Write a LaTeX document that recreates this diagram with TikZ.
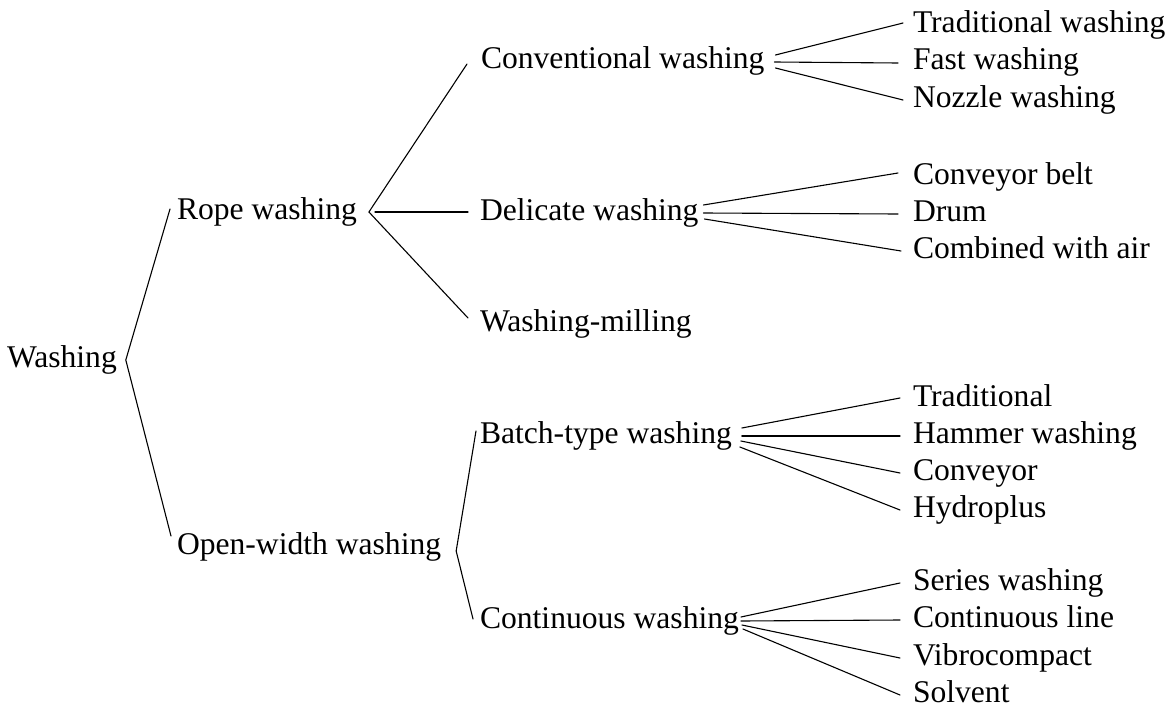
\documentclass[tikz,border=0pt]{standalone}
\usepackage{fontspec}
\setmainfont{Liberation Serif}
\begin{document}
\begin{tikzpicture}[x=1pt,y=1pt,
  label/.style={anchor=base west,inner sep=0pt,outer sep=0pt,
    font=\fontsize{31.6}{38}\selectfont},
  branch/.style={line width=1.1pt,line cap=round}]
\useasboundingbox (0,0) rectangle (1175,-709);

% root and first level
\node[label] (wash)  at (7,-367)   {Washing};
\node[label] (rope)  at (177,-219) {Rope washing};
\node[label] (open)  at (177,-554) {Open-width washing};

% second level
\node[label] (conv)  at (481,-69)  {Conventional washing};
\node[label] (deli)  at (480,-220) {Delicate washing};
\node[label] (mill)  at (480,-331) {Washing-milling};
\node[label] (batch) at (480,-443) {Batch-type washing};
\node[label] (cont)  at (480,-628) {Continuous washing};

% third level
\node[label] (trw)   at (913,-33)  {Traditional washing};
\node[label] (fast)  at (913,-70)  {Fast washing};
\node[label] (nozz)  at (913,-107) {Nozzle washing};
\node[label] (belt)  at (913,-184) {Conveyor belt};
\node[label] (drum)  at (913,-221) {Drum};
\node[label] (air)   at (913,-258) {Combined with air};
\node[label] (trad)  at (913,-406) {Traditional};
\node[label] (hamm)  at (913,-443) {Hammer washing};
\node[label] (cnvy)  at (913,-480) {Conveyor};
\node[label] (hydro) at (913,-517) {Hydroplus};
\node[label] (ser)   at (913,-590) {Series washing};
\node[label] (cline) at (913,-627) {Continuous line};
\node[label] (vib)   at (913,-665) {Vibrocompact};
\node[label] (solv)  at (913,-702) {Solvent};

% branch ends are placed relative to the baseline, half an x-height up (7pt)

% Washing
\draw[branch] ([shift={(-7,10)}]rope.base west) -- ([shift={(9,7)}]wash.base east)
              -- ([shift={(-6,18)}]open.base west);

% Rope washing
\draw[branch] ([shift={(-14,5)}]conv.base west) -- ([shift={(12,7)}]rope.base east)
              -- ([shift={(-12,13)}]mill.base west);
\draw[branch] ([shift={(18,7)}]rope.base east) -- ([shift={(-12,8)}]deli.base west);

% Open-width washing
\draw[branch] ([shift={(-4,12)}]batch.base west) -- ([shift={(15,3)}]open.base east)
              -- ([shift={(-7,9)}]cont.base west);

% Conventional washing
\draw[branch] ([shift={(11,14)}]conv.base east) -- ([shift={(-10,10)}]trw.base west);
\draw[branch] ([shift={(10,7)}]conv.base east) -- ([shift={(-15,7)}]fast.base west);
\draw[branch] ([shift={(11,1)}]conv.base east) -- ([shift={(-10,7)}]nozz.base west);

% Delicate washing
\draw[branch] ([shift={(5,15)}]deli.base east) -- ([shift={(-15,11)}]belt.base west);
\draw[branch] ([shift={(5,7)}]deli.base east) -- ([shift={(-15,7)}]drum.base west);
\draw[branch] ([shift={(6,1)}]deli.base east) -- ([shift={(-12,7)}]air.base west);

% Batch-type washing
\draw[branch] ([shift={(10,15)}]batch.base east) -- ([shift={(-13,8)}]trad.base west);
\draw[branch] ([shift={(10,7)}]batch.base east) -- ([shift={(-13,7)}]hamm.base west);
\draw[branch] ([shift={(9,2)}]batch.base east) -- ([shift={(-13,7)}]cnvy.base west);
\draw[branch] ([shift={(8,-4)}]batch.base east) -- ([shift={(-13,7)}]hydro.base west);

% Continuous washing
\draw[branch] ([shift={(2,11)}]cont.base east) -- ([shift={(-13,7)}]ser.base west);
\draw[branch] ([shift={(2,7)}]cont.base east) -- ([shift={(-13,7)}]cline.base west);
\draw[branch] ([shift={(3,3)}]cont.base east) -- ([shift={(-13,7)}]vib.base west);
\draw[branch] ([shift={(4,-1)}]cont.base east) -- ([shift={(-13,7)}]solv.base west);
\end{tikzpicture}
\end{document}
